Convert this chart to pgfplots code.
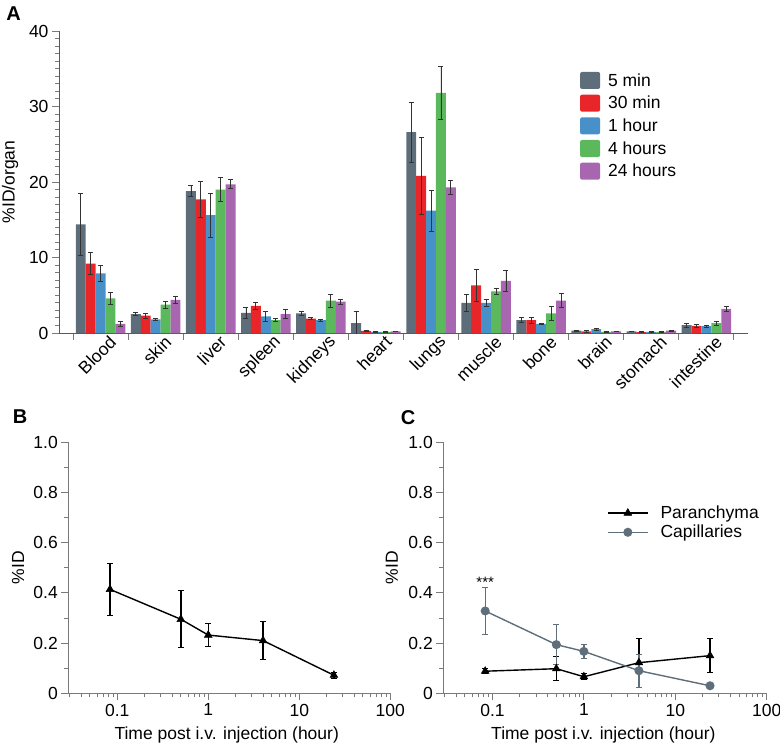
\documentclass[border=0pt]{standalone}
\usepackage{pgfplots}
\pgfplotsset{compat=1.18}
\usepackage{pgfplotstable}
\usepackage{fontspec}
\setmainfont{Liberation Sans}

\definecolor{cA}{HTML}{5D6D7A}
\definecolor{cB}{HTML}{E8262A}
\definecolor{cC}{HTML}{4790C8}
\definecolor{cD}{HTML}{5CB85C}
\definecolor{cE}{HTML}{A866B0}
\definecolor{axgray}{HTML}{7A7A7A}
\definecolor{capgray}{HTML}{5E6E7A}

\newcommand\fs{\fontsize{17.5}{20}\selectfont}

\pgfplotstableread{
x m5 e5 m30 e30 m1 e1 m4 e4 m24 e24
0 14.4 4.1 9.2 1.5 7.9 1.1 4.6 0.8 1.2 0.3
1 2.5 0.2 2.3 0.3 1.8 0.15 3.75 0.45 4.4 0.5
2 18.8 0.7 17.7 2.4 15.6 2.9 19.0 1.6 19.7 0.6
3 2.65 0.75 3.6 0.5 2.2 0.7 1.7 0.2 2.5 0.6
4 2.6 0.25 1.9 0.15 1.7 0.1 4.3 0.85 4.15 0.3
5 1.3 1.6 0.27 0.1 0.15 0.05 0.15 0.05 0.2 0.05
6 26.6 4.0 20.8 5.1 16.2 2.7 31.8 3.5 19.3 0.9
7 4.0 1.1 6.3 2.1 4.0 0.5 5.5 0.4 6.9 1.4
8 1.7 0.35 1.7 0.4 1.2 0.1 2.6 0.9 4.3 0.9
9 0.3 0.1 0.2 0.1 0.5 0.15 0.15 0.05 0.2 0.05
10 0.2 0.05 0.1 0.05 0.15 0.05 0.15 0.05 0.3 0.08
11 1.05 0.25 0.93 0.2 0.9 0.1 1.3 0.3 3.2 0.35
}\organs

\pgfplotsset{
  errA/.style={error bars/.cd, y dir=both, y explicit,
    error bar style={color=black!80, line width=0.8pt},
    error mark options={rotate=90, mark size=2.5pt, line width=0.8pt, black!80}},
  myCommon/.style={
    scale only axis,
    axis lines=left,
    axis line style={-, draw=axgray, line width=1pt},
    tick align=outside,
    tick style={axgray, line width=1pt},
    major tick length=7pt, minor tick length=4pt,
    xticklabel style={font=\fs, /pgf/number format/assume math mode=true},
    yticklabel style={font=\fs, /pgf/number format/assume math mode=true},
    clip=false,
  },
  myLog/.style={
    xmin=0.029, xmax=100, ymin=0, ymax=1,
    xtick={0.1,1,10,100}, xticklabels={0.1,1,10,100},
    minor xtick={0.03,0.04,0.05,0.06,0.07,0.08,0.09,0.2,0.3,0.4,0.5,0.6,0.7,0.8,0.9,2,3,4,5,6,7,8,9,20,30,40,50,60,70,80,90},
    ytick={0,0.2,0.4,0.6,0.8,1.0}, yticklabels={0,0.2,0.4,0.6,0.8,1.0},
    minor ytick={0.1,0.3,0.5,0.7,0.9},
    xlabel={Time post i.v. injection (hour)},
    ylabel={\%ID},
  },
}

\begin{document}
\begin{tikzpicture}
\useasboundingbox (0pt,0pt) rectangle (780pt,-746pt);

% ---------------- Panel A ----------------
\begin{axis}[myCommon,
  at={(59pt,-333pt)}, anchor=south west,
  width=689pt, height=302pt,
  xmin=-0.755, xmax=11.755, ymin=0, ymax=40,
  axis line style={-, draw=black!65, line width=1pt},
  ybar=0pt, bar width=0.18,
  legend image code/.code={\draw[#1, draw=none, rounded corners=2pt] (0pt,-8.5pt) rectangle (20pt,8.5pt); \path (26pt,0pt);},
  ytick={0,10,20,30,40}, minor y tick num=9,
  xtick={-0.5,0.5,...,11.5}, xticklabels={},
  extra x ticks={0,1,2,3,4,5,6,7,8,9,10,11},
  extra x tick labels={Blood,skin,liver,spleen,kidneys,heart,lungs,muscle,bone,brain,stomach,intestine},
  extra x tick style={major tick length=0pt,
     xticklabel style={rotate=45, anchor=east, xshift=8pt, yshift=-13pt}},
  ylabel={\%ID/organ},
  every axis y label/.style={at={(axis description cs:-0.071,0.5)}, rotate=90, anchor=center, font=\fs},
  legend style={draw=none, fill=none, at={(0.756,0.867)}, anchor=north west,
    font=\fs, row sep=4.5pt, inner sep=0pt},
  legend cell align=left,
  clip=true,
]
\addplot[fill=cA, draw=none, errA] table[x=x, y=m5, y error=e5] {\organs};
\addplot[fill=cB, draw=none, errA] table[x=x, y=m30, y error=e30] {\organs};
\addplot[fill=cC, draw=none, errA] table[x=x, y=m1, y error=e1] {\organs};
\addplot[fill=cD, draw=none, errA] table[x=x, y=m4, y error=e4] {\organs};
\addplot[fill=cE, draw=none, errA] table[x=x, y=m24, y error=e24] {\organs};
\legend{5 min,30 min,1 hour,4 hours,24 hours}
\end{axis}

% ---------------- Panel B ----------------
\begin{semilogxaxis}[myCommon, myLog,
  at={(68.3pt,-693.3pt)}, anchor=south west,
  width=322pt, height=251pt,
  every axis y label/.style={at={(axis description cs:-0.156,0.5)}, rotate=90, anchor=center, font=\fs},
  every axis x label/.style={at={(axis description cs:0.492,-0.166)}, anchor=center, font=\fs},
]
\addplot[black, line width=1.4pt, mark=triangle*, mark size=4.5pt,
  mark options={line width=0.5pt},
  error bars/.cd, y dir=both, y explicit,
  error bar style={line width=1.3pt, black},
  error mark options={rotate=90, mark size=3pt, line width=1pt, black}]
coordinates {
(0.0833,0.414) +- (0,0.105)
(0.5,0.295) +- (0,0.113)
(1,0.232) +- (0,0.045)
(4,0.21) +- (0,0.076)
(24,0.072) +- (0,0.012)
};
\end{semilogxaxis}

% ---------------- Panel C ----------------
\begin{semilogxaxis}[myCommon, myLog,
  at={(443.3pt,-693.3pt)}, anchor=south west,
  width=323.4pt, height=251pt,
  every axis y label/.style={at={(axis description cs:-0.159,0.5)}, rotate=90, anchor=center, font=\fs},
  every axis x label/.style={at={(axis description cs:0.495,-0.166)}, anchor=center, font=\fs},
  legend image code/.code={\draw[mark repeat=2, mark phase=2, #1] plot coordinates {(0pt,0pt) (20pt,0pt) (40pt,0pt)}; \path (50pt,0pt);},
  legend style={draw=none, fill=none, at={(0.506,0.755)}, anchor=north west,
    font=\fs, row sep=1pt, inner sep=0pt},
  legend cell align=left,
]
\addplot[black, line width=1.4pt, mark=triangle*, mark size=4.5pt,
  mark options={line width=0.5pt},
  error bars/.cd, y dir=both, y explicit,
  error bar style={line width=1.3pt, black},
  error mark options={rotate=90, mark size=3pt, line width=1pt, black}]
coordinates {
(0.0833,0.088) +- (0,0.01)
(0.5,0.098) +- (0,0.048)
(1,0.066) +- (0,0.012)
(4,0.122) +- (0,0.097)
(24,0.15) +- (0,0.068)
};
\addplot[capgray, line width=1.4pt, mark=*, mark size=3.8pt,
  error bars/.cd, y dir=both, y explicit,
  error bar style={line width=1.3pt, capgray},
  error mark options={rotate=90, mark size=3pt, line width=1pt, capgray}]
coordinates {
(0.0833,0.328) +- (0,0.095)
(0.5,0.194) +- (0,0.08)
(1,0.167) +- (0,0.028)
(4,0.09) +- (0,0.066)
(24,0.03) +- (0,0)
};
\legend{Paranchyma,Capillaries}
\node[font=\fontsize{15}{15}\selectfont, anchor=base] at (axis cs:0.0833,0.42) {***};
\end{semilogxaxis}

% panel letters
\node[font=\bfseries\fontsize{20}{20}\selectfont] at (13.5pt,-14pt) {A};
\node[font=\bfseries\fontsize{20}{20}\selectfont] at (20pt,-417pt) {B};
\node[font=\bfseries\fontsize{20}{20}\selectfont] at (408pt,-418pt) {C};
\end{tikzpicture}
\end{document}
